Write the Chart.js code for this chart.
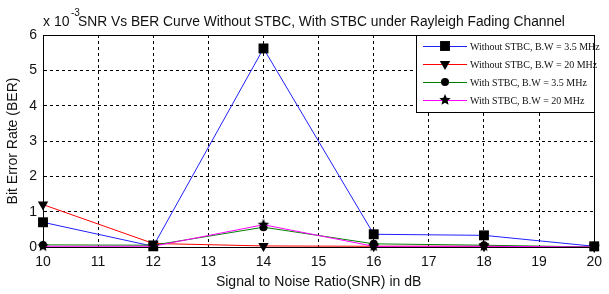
<!DOCTYPE html>
<html>
<head>
<meta charset="utf-8">
<script src="https://cdn.jsdelivr.net/npm/chart.js@4.4.0/dist/chart.umd.min.js"></script>
<style>
  html, body { margin: 0; padding: 0; background: #fff; }
  #wrap { width: 609px; height: 294px; }
</style>
</head>
<body>
<div id="wrap"><canvas id="berChart" width="609" height="294"></canvas></div>
<script>
// SNR points (dB) and BER values (x 10^-3)
const snr = [10, 12, 14, 16, 18, 20];
const berNoStbc35 = [0.70, 0.02, 5.62, 0.36, 0.33, 0.02];
const berNoStbc20 = [1.20, 0.10, 0.03, 0.02, 0.02, 0.00];
const berStbc35 = [0.06, 0.05, 0.56, 0.09, 0.05, 0.00];
const berStbc20 = [0.02, 0.02, 0.63, 0.02, 0.02, 0.00];
const seriesLabels = [
  "Without STBC, B.W = 3.5 MHz",
  "Without STBC, B.W = 20 MHz",
  "With STBC, B.W = 3.5 MHz",
  "With STBC, B.W = 20 MHz"
];
const yTicks = [0, 1, 2, 3, 4, 5, 6];

const SANS = "'Liberation Sans', Arial, sans-serif";
const SERIF = "'Liberation Serif', 'Times New Roman', serif";

// filled five point star used as a marker
const makeStar = (r) => {
  const c = document.createElement("canvas");
  c.width = c.height = r * 2 + 2;
  const g = c.getContext("2d");
  g.fillStyle = "#000";
  g.beginPath();
  for (let i = 0; i < 10; i++) {
    const rad = i % 2 === 0 ? r : r * 0.45;
    const a = -Math.PI / 2 + i * Math.PI / 5;
    const px = r + 1 + rad * Math.cos(a);
    const py = r + 1 + rad * Math.sin(a);
    i === 0 ? g.moveTo(px, py) : g.lineTo(px, py);
  }
  g.closePath();
  g.fill();
  return c;
};
const star = makeStar(6);

const pts = (vals) => snr.map((x, i) => ({ x: x, y: vals[i] }));

const mkSet = (label, vals, color, style, radius, rotation, order) => ({
  label: label,
  data: pts(vals),
  borderColor: color,
  borderWidth: 1,
  backgroundColor: color,
  pointStyle: style,
  pointRadius: radius,
  pointRotation: rotation,
  pointBackgroundColor: "#000",
  pointBorderColor: "#000",
  pointBorderWidth: 0,
  tension: 0,
  clip: false,
  order: order
});

const decorations = {
  id: "decorations",
  afterDraw(chart) {
    const ctx = chart.ctx;
    const a = chart.chartArea;
    ctx.save();
    // full box round the axes
    ctx.strokeStyle = "#000";
    ctx.lineWidth = 1;
    ctx.strokeRect(Math.round(a.left) + 0.5, Math.round(a.top) + 0.5,
      Math.round(a.right - a.left), Math.round(a.bottom - a.top));

    // title with exponent
    ctx.fillStyle = "#111";
    ctx.textBaseline = "alphabetic";
    ctx.textAlign = "left";
    ctx.font = "14px " + SANS;
    ctx.fillText("x 10", 43, 26);
    ctx.font = "10px " + SANS;
    ctx.fillText("-3", 71, 16);
    ctx.font = "13.8px " + SANS;
    ctx.fillText("SNR Vs BER Curve Without STBC, With STBC under Rayleigh Fading Channel", 78, 26);

    // legend box
    const lx = 416.5, ly = Math.round(a.top) + 0.5;
    const lw = Math.round(a.right) - 416, lh = 77;
    ctx.fillStyle = "#fff";
    ctx.fillRect(lx, ly, lw, lh);
    ctx.strokeRect(lx, ly, lw, lh);
    const rows = [46, 64, 82, 100];
    ctx.font = "10px " + SERIF;
    ctx.textBaseline = "middle";
    chart.data.datasets.forEach((ds, i) => {
      const y = rows[i];
      ctx.strokeStyle = ds.borderColor;
      ctx.lineWidth = 1;
      ctx.beginPath();
      ctx.moveTo(423, y + 0.5);
      ctx.lineTo(467, y + 0.5);
      ctx.stroke();
      ctx.fillStyle = "#000";
      ctx.strokeStyle = "#000";
      Chart.helpers.drawPoint(ctx, {
        pointStyle: ds.pointStyle,
        radius: ds.pointRadius,
        rotation: ds.pointRotation,
        borderWidth: 0
      }, 445, y);
      ctx.fillStyle = "#111";
      ctx.fillText(ds.label, 470, y + 1);
    });
    ctx.restore();
  }
};

const renderBerChart = () => {
  const ctx = document.getElementById("berChart").getContext("2d");
  new Chart(ctx, {
    type: "line",
    data: {
      datasets: [
        mkSet(seriesLabels[0], berNoStbc35, "#2020ff", "rect", 7, 0, 4),
        mkSet(seriesLabels[1], berNoStbc20, "#ff0000", "triangle", 6, 180, 3),
        mkSet(seriesLabels[2], berStbc35, "#008000", "circle", 4, 0, 2),
        mkSet(seriesLabels[3], berStbc20, "#ff00ff", star, 6, 0, 1)
      ]
    },
    options: {
      responsive: false,
      animation: false,
      events: [],
      layout: { padding: { top: 35, right: 5, left: 0, bottom: 0 } },
      plugins: {
        legend: { display: false },
        tooltip: { enabled: false }
      },
      scales: {
        x: {
          type: "linear",
          min: 10,
          max: 20,
          afterFit: (s) => { s.height = 47; },
          ticks: {
            stepSize: 1,
            color: "#111",
            padding: 7,
            font: { family: SANS, size: 14 },
            maxRotation: 0
          },
          grid: { color: "#000", lineWidth: 1, drawTicks: false },
          border: { display: true, color: "#000", width: 1, dash: [3, 3] },
          title: {
            display: true,
            text: "Signal to Noise Ratio(SNR) in dB",
            color: "#111",
            font: { family: SANS, size: 14 },
            padding: { top: 0, bottom: 3 }
          }
        },
        y: {
          min: 0,
          max: 6,
          afterFit: (s) => { s.width = 43; },
          afterBuildTicks: (s) => { s.ticks = yTicks.map((v) => ({ value: v })); },
          ticks: {
            color: "#111",
            padding: 6,
            font: { family: SANS, size: 14 }
          },
          grid: { color: "#000", lineWidth: 1, drawTicks: false },
          border: { display: true, color: "#000", width: 1, dash: [3, 3] },
          title: {
            display: true,
            text: "Bit Error Rate (BER)",
            color: "#111",
            font: { family: SANS, size: 14 },
            padding: { top: 5, bottom: 0 }
          }
        }
      }
    },
    plugins: [decorations]
  });
};

renderBerChart();
</script>
</body>
</html>
